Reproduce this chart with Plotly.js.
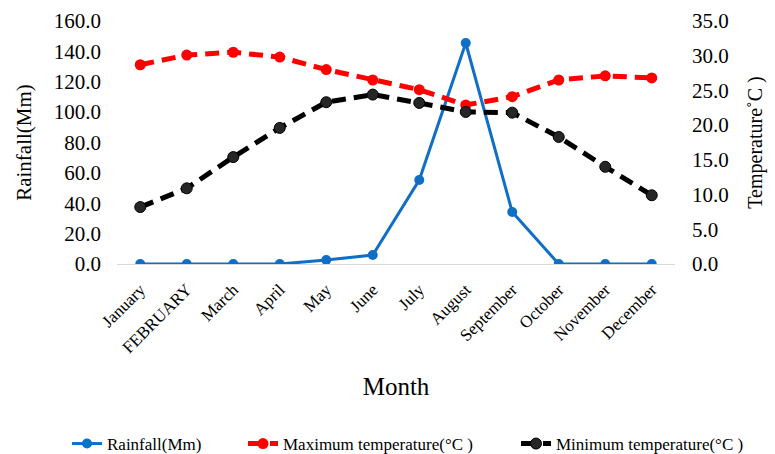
<!DOCTYPE html>
<html>
<head>
<meta charset="utf-8">
<script src="https://cdn.plot.ly/plotly-3.0.1.min.js"></script>
<style>html,body{margin:0;padding:0;background:#fff;}#chart{width:775px;height:454px;}</style>
</head>
<body>
<div id="chart"></div>
<script>
const months = ["January","FEBRUARY","March","April","May","June","July","August","September","October","November","December"];
const rainfall = [0, 0, 0, 0, 2.6, 5.9, 55.3, 145.5, 34.2, 0, 0, 0];
const maxTemp = [28.7, 30.1, 30.5, 29.8, 28.0, 26.5, 25.1, 22.9, 24.1, 26.5, 27.1, 26.8];
const minTemp = [8.2, 10.9, 15.4, 19.6, 23.3, 24.4, 23.2, 21.9, 21.8, 18.3, 14.0, 9.9];

const font = "Liberation Serif, Times New Roman, serif";
const traces = [
  {x: months, y: rainfall, name: "Rainfall(Mm)", type: "scatter", mode: "lines+markers",
   line: {color: "#0f6fc6", width: 3}, marker: {color: "#0f6fc6", size: 10}, yaxis: "y", legend: "legend"},
  {x: months, y: maxTemp, name: "Maximum temperature(°C )", type: "scatter", mode: "lines+markers",
   line: {color: "#ff0000", width: 5, dash: "14px,8px"}, marker: {color: "#ff0000", size: 11}, yaxis: "y2", legend: "legend2"},
  {x: months, y: minTemp, name: "Minimum temperature(°C )", type: "scatter", mode: "lines+markers",
   line: {color: "#000000", width: 5, dash: "14px,8px"}, marker: {color: "#262626", size: 11, line: {color: "#000", width: 1}}, yaxis: "y2", legend: "legend3"}
];
function leg(x) {
  return {orientation: "h", xref: "container", yref: "container", x: x, xanchor: "left",
          y: 0.022, yanchor: "middle", font: {family: font, size: 17}, bgcolor: "rgba(0,0,0,0)"};
}
const layout = {
  width: 775, height: 454,
  margin: {l: 117, r: 100, t: 21, b: 190},
  paper_bgcolor: "#fff", plot_bgcolor: "#fff",
  font: {family: font, color: "#000"},
  showlegend: true,
  legend: leg(67 / 775),
  legend2: leg(243 / 775),
  legend3: leg(516 / 775),
  xaxis: {type: "category", tickangle: -45, tickfont: {family: font, size: 17}, automargin: false,
          showline: true, linecolor: "#d9d9d9", linewidth: 1, showgrid: false, zeroline: false,
          ticks: "", range: [-0.5, 11.5], ticklabelstandoff: 8,
          title: {text: "Month", font: {family: font, size: 25}, standoff: 21}},
  yaxis: {range: [0, 160], dtick: 20, tickformat: ".1f", showgrid: false, zeroline: false, automargin: false,
          tickfont: {family: font, size: 21}, ticks: "", ticklabelstandoff: 15,
          title: {text: "Rainfall(Mm)", font: {family: font, size: 21}, standoff: 16}},
  yaxis2: {range: [0, 35], dtick: 5, tickformat: ".1f", overlaying: "y", side: "right", automargin: false,
           showgrid: false, zeroline: false, ticks: "", ticklabelstandoff: 16,
           tickfont: {family: font, size: 21},
           title: {text: "Temperature˚C )", font: {family: font, size: 20}, standoff: 20}}
};
Plotly.newPlot("chart", traces, layout, {displayModeBar: false, staticPlot: true});
</script>
</body>
</html>
